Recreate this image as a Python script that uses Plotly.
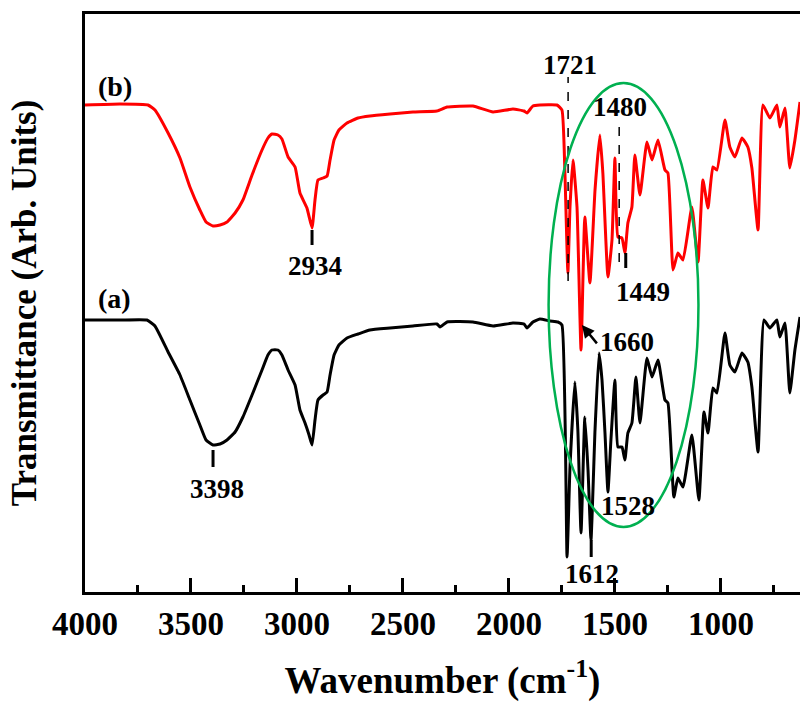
import plotly.graph_objects as go

# ---------------- data ----------------
# Wavenumber (cm-1) and transmittance (arbitrary units, offset spectra)
wn_a = [4000, 3835, 3708, 3670, 3608, 3552, 3505, 3458, 3429, 3396, 3363, 3330, 3292, 3255,
        3212, 3165, 3137, 3118, 3090, 3071, 3042, 3009, 2986, 2962, 2943, 2929, 2915, 2901,
        2877, 2858, 2844, 2825, 2802, 2764, 2712, 2656, 2561, 2453, 2340, 2325, 2292, 2170,
        2075, 1981, 1929, 1915, 1887, 1854, 1807, 1769, 1750, 1726, 1712, 1689, 1675, 1660,
        1642, 1627, 1613, 1594, 1575, 1561, 1547, 1533, 1519, 1500, 1486, 1467, 1453, 1439,
        1420, 1401, 1382, 1349, 1325, 1297, 1264, 1250, 1222, 1203, 1179, 1137, 1104, 1080,
        1061, 1038, 1019, 981, 958, 934, 901, 873, 854, 825, 797, 769, 736, 722, 698, 675,
        651, 627]
t_a = [272, 272, 272, 266, 240, 217, 192, 167, 152, 147, 148, 152, 160, 175,
       197, 222, 237, 242, 242, 237, 222, 207, 182, 169, 157, 147, 172, 192,
       197, 200, 217, 237, 247, 254, 258, 262, 264, 266, 268, 265, 270, 270,
       266, 269, 268, 264, 270, 273, 271, 270, 267, 35, 125, 210, 162, 59,
       175, 122, 52, 162, 239, 212, 159, 100, 152, 212, 145, 145, 132, 159,
       169, 215, 169, 234, 215, 232, 192, 189, 95, 114, 105, 157, 92, 180,
       159, 204, 199, 259, 227, 220, 239, 230, 205, 140, 272, 264, 272, 255, 269, 199,
       242, 275]

wn_b = [4000, 3835, 3703, 3670, 3608, 3552, 3505, 3458, 3429, 3396, 3363, 3330, 3292, 3255,
        3212, 3165, 3137, 3118, 3090, 3071, 3042, 3009, 2986, 2953, 2929, 2915, 2901, 2877,
        2858, 2844, 2825, 2802, 2764, 2712, 2656, 2561, 2453, 2340, 2292, 2170, 2075, 1981,
        1929, 1915, 1887, 1854, 1774, 1750, 1736, 1722, 1712, 1698, 1679, 1660, 1642, 1618,
        1594, 1571, 1557, 1533, 1514, 1500, 1486, 1467, 1453, 1439, 1420, 1406, 1382, 1349,
        1325, 1297, 1264, 1250, 1226, 1203, 1179, 1137, 1108, 1085, 1061, 1038, 1019, 981,
        958, 934, 901, 873, 854, 825, 802, 769, 736, 722, 698, 675, 651, 627]
t_b = [487, 488, 487, 482, 459, 434, 405, 382, 370, 366, 367, 370, 379, 392,
       417, 442, 454, 458, 457, 453, 435, 425, 399, 384, 364, 392, 412, 414,
       416, 432, 452, 462, 469, 474, 476, 478, 480, 481, 485, 486, 480, 483,
       481, 479, 486, 487, 487, 482, 419, 319, 385, 432, 385, 242, 375, 309,
       402, 457, 419, 315, 352, 434, 355, 354, 339, 369, 385, 437, 397, 450,
       432, 452, 422, 419, 322, 339, 332, 385, 330, 412, 384, 425, 422, 472,
       445, 435, 454, 445, 424, 362, 487, 474, 487, 465, 484, 424, 452, 490]

x_ticks = [4000, 3500, 3000, 2500, 2000, 1500, 1000]
x_range = [4000, 627]
y_range = [0, 578]

FONT = "Liberation Serif, Times New Roman, serif"

fig = go.Figure()
fig.add_trace(go.Scatter(x=wn_a, y=t_a, mode="lines", name="(a)",
                         line=dict(color="black", width=3, shape="spline", smoothing=0.4),
                         showlegend=False))
fig.add_trace(go.Scatter(x=wn_b, y=t_b, mode="lines", name="(b)",
                         line=dict(color="red", width=3, shape="spline", smoothing=0.4),
                         showlegend=False))

# ---------------- annotations ----------------
def label(text, x, y, size=27):
    fig.add_annotation(x=x, y=y, text=text, showarrow=False, xref="x", yref="y",
                       font=dict(family=FONT, size=size, color="black", weight="bold"))

label("(b)", 3858, 506, 28)
label("(a)", 3863, 294, 28)
label("2934", 2915, 326)
label("3398", 3377, 103)
label("1721", 1712, 527)
label("1480", 1476, 485)
label("1449", 1368, 300)
label("1528", 1439, 86)
label("1612", 1608, 18)

fig.add_annotation(x=1656, y=267, ax=1571, ay=245, axref="x", ayref="y", xref="x", yref="y",
                   text=" ", showarrow=True, arrowhead=2, arrowsize=1, arrowwidth=2.5,
                   arrowcolor="black", font=dict(size=10))
label("1660", 1443, 250)

# solid peak markers
for xm, y0, y1 in [(2929, 347, 362), (3396, 125, 142), (1449, 324, 339), (1612, 35, 52)]:
    fig.add_shape(type="line", x0=xm, x1=xm, y0=y0, y1=y1, xref="x", yref="y",
                  line=dict(color="black", width=3))
# dashed guide lines
for xm, y0, y1 in [(1721, 311, 515), (1480, 330, 474)]:
    fig.add_shape(type="line", x0=xm, x1=xm, y0=y0, y1=y1, xref="x", yref="y",
                  line=dict(color="black", width=1.5, dash="dash"))

# green ellipse
fig.add_shape(type="circle", x0=1813, x1=1106, y0=65, y1=509, xref="x", yref="y",
              line=dict(color="#00B050", width=2.5))

fig.update_layout(
    width=800, height=702,
    margin=dict(l=85, r=0, t=14, b=110),
    plot_bgcolor="white", paper_bgcolor="white",
    font=dict(family=FONT, color="black"),
)
fig.update_xaxes(
    range=x_range, tickmode="array", tickvals=x_ticks, ticktext=[str(v) for v in x_ticks],
    showline=True, linecolor="black", linewidth=3, mirror=True,
    ticks="inside", ticklen=14, tickwidth=3, tickcolor="black",
    minor=dict(dtick=250, ticks="inside", ticklen=7, tickwidth=3, tickcolor="black", tick0=4000),
    showgrid=False, zeroline=False,
    tickfont=dict(family=FONT, size=33, color="black", weight="bold"),
    ticklabelstandoff=0,
    title=dict(text="Wavenumber (cm<sup>-1</sup>)", standoff=29,
               font=dict(family=FONT, size=37, color="black", weight="bold")),
    automargin=False,
)
fig.update_yaxes(
    range=y_range, showline=True, linecolor="black", linewidth=3, mirror=False,
    showticklabels=False, ticks="", showgrid=False, zeroline=False,
    title=dict(text="Transmittance (Arb. Units)", standoff=35,
               font=dict(family=FONT, size=35, color="black", weight="bold")),
    automargin=False,
)

fig.write_html("out.html", config={"displayModeBar": False},
               post_script="document.body.style.margin='0';document.body.style.overflow='hidden';")
